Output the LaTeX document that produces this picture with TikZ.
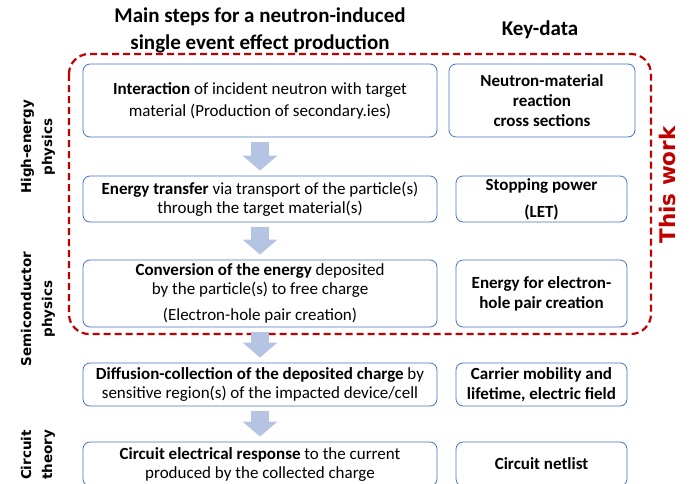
\documentclass[tikz,border=0pt]{standalone}
\usepackage{fontspec}
\setmainfont{Carlito}
\newfontfamily\sidefont{DejaVu Sans}
\usetikzlibrary{arrows.meta}

\definecolor{boxblue}{RGB}{68,114,196}
\definecolor{arrowblue}{RGB}{180,196,226}
\definecolor{workred}{RGB}{192,0,0}

\begin{document}
\begin{tikzpicture}[x=1pt,y=-1pt,
    stepbox/.style={draw=boxblue, line width=0.8pt, rounded corners=7pt, align=center,
      inner sep=0pt, font=\fontsize{17}{19}\selectfont},
    keybox/.style={stepbox, font=\fontsize{17}{20}\selectfont\bfseries},
    heading/.style={align=center, font=\fontsize{21}{27}\selectfont\bfseries},
    sidelabel/.style={rotate=90, align=center, font=\fontsize{13.5}{21}\selectfont\sidefont\bfseries},
    flow/.style={line width=18pt, arrowblue, -{Triangle[length=15pt,width=34pt]},
      shorten <=5pt, shorten >=5pt}]
  \useasboundingbox (0,0) rectangle (694,483);
  \clip (0,0) rectangle (694,483);

  % headings
  \node[heading] (main) at (260,30) {Main steps for a neutron-induced\\single event effect production};
  \node[heading] (key) at (540,30) {Key-data};

  % main steps
  \node[stepbox, minimum width=354, minimum height=73] (s1) at (260,100.5)
    {\textbf{Interaction} of incident neutron with target\\[3pt]material (Production of secondary.ies)};
  \node[stepbox, minimum width=354, minimum height=46] (s2) at (260,199)
    {\textbf{Energy transfer} via transport of the particle(s)\\through the target material(s)};
  \node[stepbox, minimum width=354, minimum height=67] (s3) at (260,293.5)
    {\textbf{Conversion of the energy} deposited\\by the particle(s) to free charge\\[7pt](Electron-hole pair creation)};
  \node[stepbox, minimum width=354, minimum height=43] (s4) at (260,384.5)
    {\textbf{Diffusion-collection of the deposited charge} by\\sensitive region(s) of the impacted device/cell};
  \node[stepbox, minimum width=354, minimum height=44] (s5) at (260,464)
    {\textbf{Circuit electrical response} to the current\\produced by the collected charge};

  % key data
  \node[keybox, minimum width=186, minimum height=73] (k1) at (542,100.5)
    {Neutron-material\\reaction\\cross sections};
  \node[keybox, minimum width=171, minimum height=46] (k2) at (541.5,199)
    {Stopping power\\[7pt](LET)};
  \node[keybox, minimum width=171, minimum height=67] (k3) at (541.5,293.5)
    {Energy for electron-\\hole pair creation};
  \node[keybox, minimum width=171, minimum height=43] (k4) at (541.5,384.5)
    {Carrier mobility and\\lifetime, electric field};
  \node[keybox, minimum width=171, minimum height=44] (k5) at (541.5,464)
    {Circuit netlist};

  % this work
  \draw[workred, line width=2.2pt, dash pattern=on 7pt off 4pt, rounded corners=20pt]
    (69,54) rectangle (651,334);
  \node[rotate=90, text=workred, font=\fontsize{21.5}{24}\selectfont\sidefont\bfseries] (work) at (667,185) {This work};

  % flow arrows
  \draw[flow] (s1) -- (s2);
  \draw[flow] (s2) -- (s3);
  \draw[flow] (s3) -- (s4);
  \draw[flow] (s4) -- (s5);

  % physics domains
  \node[sidelabel] (hep) at (38,147) {High-energy\\physics};
  \node[sidelabel] (semi) at (38,309) {Semiconductor\\physics};
  \node[sidelabel] (circ) at (38,455) {Circuit\\theory};
\end{tikzpicture}
\end{document}
